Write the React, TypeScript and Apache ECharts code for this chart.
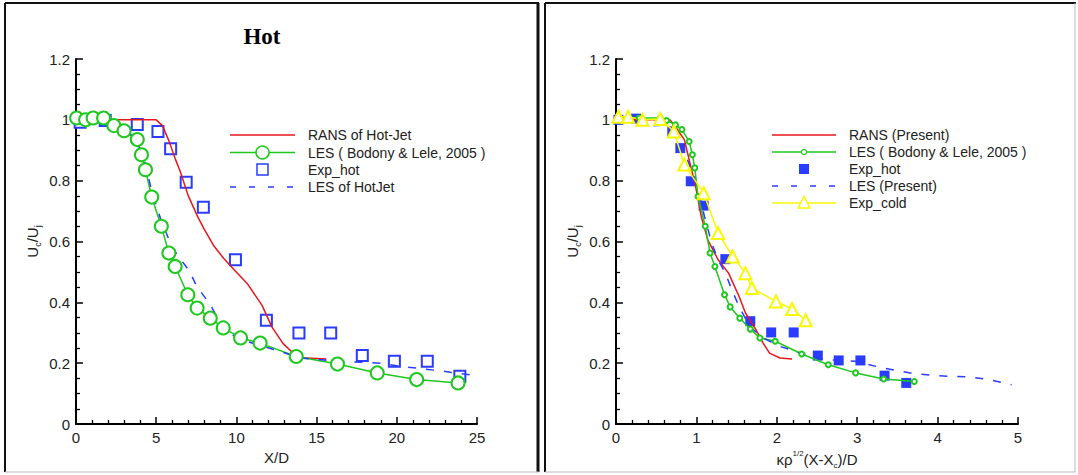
import React, { useEffect, useRef } from "react";
import * as echarts from "echarts";

// ---------- data ----------
// Left panel: "Hot", x = X/D
const leftRans: number[][] = [
  [0, 1.0], [0.3, 1.012], [0.8, 1.0], [5.0, 1.0], [5.4, 0.98], [5.8, 0.93], [6.2, 0.87],
  [6.5, 0.83], [7.0, 0.75], [7.6, 0.68], [8.0, 0.64], [8.6, 0.585], [9.2, 0.545],
  [9.9, 0.505], [10.7, 0.46], [11.6, 0.39], [12.2, 0.32], [12.9, 0.265], [13.5, 0.235],
  [14.1, 0.218], [15.6, 0.214],
];
const leftLesBodony: number[][] = [
  [0.04, 1.006], [0.6, 1.0], [1.07, 1.006], [1.72, 1.006], [2.36, 0.981], [3.0, 0.964],
  [3.82, 0.935], [4.08, 0.885], [4.33, 0.836], [4.72, 0.746], [5.32, 0.65], [5.79, 0.562],
  [6.18, 0.518], [6.97, 0.425], [7.55, 0.381], [8.37, 0.348], [9.18, 0.316], [10.26, 0.283],
  [11.48, 0.266], [13.73, 0.222], [16.3, 0.197], [18.78, 0.168], [21.24, 0.146], [23.82, 0.135],
];
const leftExpHot: number[][] = [
  [0.26, 0.992], [1.82, 0.998], [3.82, 0.985], [5.11, 0.962], [5.9, 0.905], [6.87, 0.795],
  [7.94, 0.713], [9.94, 0.54], [11.87, 0.341], [13.9, 0.299], [15.88, 0.299], [17.85, 0.225],
  [19.85, 0.206], [21.9, 0.206], [23.93, 0.157],
];
const leftLesHotJet: number[][] = [
  [0, 1.0], [1.5, 1.0], [3.0, 0.975], [3.8, 0.93], [4.3, 0.86], [4.7, 0.77], [5.3, 0.67],
  [6.0, 0.58], [7.1, 0.5], [7.5, 0.455], [8.4, 0.39], [9.2, 0.31], [10.3, 0.277],
  [12.4, 0.244], [14.0, 0.217], [16.5, 0.206], [18.9, 0.2], [20.2, 0.19], [22.5, 0.176],
  [25.0, 0.159],
];

// Right panel: scaled coordinate
const rightRans: number[][] = [
  [0, 1.0], [0.04, 1.017], [0.15, 1.0], [0.67, 1.0], [0.72, 0.984], [0.85, 0.935],
  [0.93, 0.847], [0.99, 0.781], [1.06, 0.683], [1.14, 0.606], [1.27, 0.54], [1.4, 0.496],
  [1.53, 0.42], [1.61, 0.365], [1.74, 0.31], [1.83, 0.266], [1.91, 0.233], [2.04, 0.217],
  [2.19, 0.214],
];
const rightLesBodony: number[][] = [
  [0.03, 1.006], [0.29, 1.006], [0.55, 1.006], [0.63, 0.998], [0.74, 0.984], [0.82, 0.968],
  [0.91, 0.929], [0.95, 0.885], [0.98, 0.842], [1.02, 0.748], [1.11, 0.65], [1.17, 0.562],
  [1.23, 0.518], [1.35, 0.425], [1.42, 0.385], [1.54, 0.348], [1.67, 0.312], [1.79, 0.283],
  [1.98, 0.272], [2.31, 0.23], [2.64, 0.195], [2.98, 0.168], [3.33, 0.148], [3.71, 0.14],
];
const rightExpHot: number[][] = [
  [0.03, 1.0], [0.25, 1.004], [0.7, 0.962], [0.8, 0.907], [0.93, 0.798], [1.09, 0.718],
  [1.36, 0.542], [1.67, 0.338], [1.93, 0.301], [2.21, 0.301], [2.51, 0.225], [2.77, 0.209],
  [3.04, 0.209], [3.34, 0.159], [3.61, 0.135],
];
const rightLesPresent: number[][] = [
  [0.03, 0.995], [0.2, 1.0], [0.46, 0.98], [0.63, 0.984], [0.76, 0.935], [0.89, 0.869],
  [1.02, 0.77], [1.1, 0.683], [1.19, 0.595], [1.27, 0.54], [1.36, 0.496], [1.44, 0.442],
  [1.53, 0.387], [1.66, 0.321], [1.83, 0.283], [2.04, 0.255], [2.3, 0.233], [2.6, 0.212],
  [2.98, 0.206], [3.32, 0.184], [3.66, 0.168], [3.96, 0.159], [4.35, 0.155], [4.6, 0.148],
  [4.92, 0.129],
];
const rightExpCold: number[][] = [
  [0.03, 1.01], [0.15, 1.01], [0.33, 1.0], [0.55, 1.003], [0.72, 0.962], [0.85, 0.853],
  [1.09, 0.759], [1.27, 0.628], [1.45, 0.551], [1.61, 0.496], [1.69, 0.447], [1.99, 0.403],
  [2.19, 0.378], [2.36, 0.341],
];

const leftLegendLabels = ["RANS of Hot-Jet", "LES ( Bodony & Lele, 2005 )", "Exp_hot", "LES of HotJet"];
const rightLegendLabels = ["RANS (Present)", "LES ( Bodony & Lele, 2005 )", "Exp_hot", "LES (Present)", "Exp_cold"];

// ---------- styles ----------
const FONT = "'Liberation Sans', Arial, Helvetica, sans-serif";
const RED = "#e8161c";
const GREEN = "#1ec81e";
const BLUE = "#2a3cff";
const YELLOW = "#f8f800";

function xAxis(gridIndex: number, max: number, interval: number, name: any, rich: any) {
  return {
    type: "value", gridIndex, min: 0, max, interval,
    axisLine: { show: true, onZero: false, lineStyle: { color: "#000", width: 2 } },
    axisTick: { show: true, inside: true, length: 7, lineStyle: { color: "#000", width: 1.5 } },
    minorTick: { show: true, splitNumber: 5, length: 4, lineStyle: { color: "#000", width: 1.3 } },
    axisLabel: { color: "#222", fontSize: 15, fontFamily: FONT, margin: 6 },
    splitLine: { show: false },
    name, nameLocation: "middle", nameGap: 19,
    nameTextStyle: { color: "#222", fontSize: 15, fontFamily: FONT, rich },
  };
}
function yAxis(gridIndex: number) {
  return {
    type: "value", gridIndex, min: 0, max: 1.2, interval: 0.2,
    axisLine: { show: true, onZero: false, lineStyle: { color: "#000", width: 2 } },
    axisTick: { show: true, inside: true, length: 7, lineStyle: { color: "#000", width: 1.5 } },
    minorTick: { show: true, splitNumber: 4, length: 4, lineStyle: { color: "#000", width: 1.3 } },
    axisLabel: { color: "#222", fontSize: 15, fontFamily: FONT, margin: 6 },
    splitLine: { show: false },
    name: "{a|U}{b|c}{a|/U}{b|j}", nameLocation: "middle", nameGap: 34, nameRotate: 90,
    nameTextStyle: {
      color: "#222", fontFamily: FONT,
      rich: {
        a: { fontSize: 15, fontFamily: FONT, color: "#222", lineHeight: 20 },
        b: { fontSize: 9, fontFamily: FONT, color: "#222", lineHeight: 20, verticalAlign: "bottom" },
      },
    },
  };
}

function frameLine(x1: number, y1: number, x2: number, y2: number, color: string, w: number) {
  return { type: "line", shape: { x1, y1, x2, y2 }, style: { stroke: color, lineWidth: w }, silent: true };
}

function legendText(x: number, y: number, text: string) {
  return {
    type: "text", x, y,
    style: { text, fill: "#222", font: `14px ${FONT}`, verticalAlign: "middle", align: "left" },
    silent: true,
  };
}

export default function App() {
  const ref = useRef<HTMLDivElement>(null);
  useEffect(() => {
    document.body.style.margin = "0";
    const chart = echarts.init(ref.current!, null, { renderer: "svg", width: 1078, height: 475 });

    const lRows = [135, 152.5, 169.5, 187];
    const rRows = [135, 152, 169, 186, 203];
    const lx1 = 230, lx2 = 295, ltx = 308, lcx = (230 + 295) / 2;
    const rx1 = 772, rx2 = 836, rtx = 849, rcx = (772 + 836) / 2;

    const graphic: any[] = [
      // panel frames
      frameLine(5, 3, 539, 3, "#111", 2),
      frameLine(5, 3, 5, 472, "#111", 2),
      frameLine(538, 3, 538, 472, "#111", 3),
      frameLine(5, 472, 539, 472, "#bbb", 1),
      frameLine(545, 3, 1076, 3, "#111", 2),
      frameLine(545, 3, 545, 472, "#111", 2),
      frameLine(1075, 3, 1075, 472, "#bbb", 1),
      frameLine(545, 472, 1076, 472, "#bbb", 1),
      // title
      {
        type: "text", x: 262, y: 36,
        style: { text: "Hot", fill: "#000", font: "bold 23px 'Liberation Serif', 'Times New Roman', serif", align: "center", verticalAlign: "middle" },
      },
      // left legend
      frameLine(lx1, lRows[0], lx2, lRows[0], RED, 1.5),
      frameLine(lx1, lRows[1], lx2, lRows[1], GREEN, 1.5),
      { type: "circle", shape: { cx: lcx, cy: lRows[1], r: 6.5 }, style: { stroke: GREEN, fill: "#fff", lineWidth: 1.5 } },
      { type: "rect", shape: { x: lcx - 5.5, y: lRows[2] - 5.5, width: 11, height: 11 }, style: { stroke: BLUE, fill: "none", lineWidth: 1.5 } },
      { type: "line", shape: { x1: lx1, y1: lRows[3], x2: lx2, y2: lRows[3] }, style: { stroke: BLUE, lineWidth: 1.5, lineDash: [6, 13] } },
      ...leftLegendLabels.map((t, i) => legendText(ltx, lRows[i], t)),
      // right legend
      frameLine(rx1, rRows[0], rx2, rRows[0], RED, 1.5),
      frameLine(rx1, rRows[1], rx2, rRows[1], GREEN, 1.5),
      { type: "circle", shape: { cx: rcx, cy: rRows[1], r: 2.5 }, style: { stroke: GREEN, fill: "#fff", lineWidth: 1.2 } },
      { type: "rect", shape: { x: rcx - 5, y: rRows[2] - 5, width: 10, height: 10 }, style: { fill: BLUE } },
      { type: "line", shape: { x1: rx1, y1: rRows[3], x2: rx2, y2: rRows[3] }, style: { stroke: BLUE, lineWidth: 1.5, lineDash: [6, 13] } },
      frameLine(rx1, rRows[4], rx2, rRows[4], YELLOW, 1.5),
      { type: "polygon", shape: { points: [[rcx, rRows[4] - 6.5], [rcx - 6, rRows[4] + 5], [rcx + 6, rRows[4] + 5]] }, style: { stroke: YELLOW, fill: "#fff", lineWidth: 1.5 } },
      ...rightLegendLabels.map((t, i) => legendText(rtx, rRows[i], t)),
    ];

    const option: any = {
      animation: false,
      backgroundColor: "#fff",
      textStyle: { fontFamily: FONT },
      grid: [
        { left: 76, top: 59, width: 401, height: 365 },
        { left: 616, top: 59, width: 402, height: 365 },
      ],
      xAxis: [
        xAxis(0, 25, 5, "X/D", {}),
        xAxis(1, 5, 1, "{a|κρ}{sup|1/2}{a|(X-X}{sub|c}{a|)/D}", {
          a: { fontSize: 15, fontFamily: FONT, color: "#222", lineHeight: 20 },
          sup: { fontSize: 8, fontFamily: FONT, color: "#222", lineHeight: 20, verticalAlign: "top" },
          sub: { fontSize: 8, fontFamily: FONT, color: "#222", lineHeight: 20, verticalAlign: "bottom" },
        }),
      ],
      yAxis: [yAxis(0), yAxis(1)],
      graphic,
      series: [
        {
          name: "RANS of Hot-Jet", type: "line", xAxisIndex: 0, yAxisIndex: 0, data: leftRans,
          showSymbol: false, symbol: "none", lineStyle: { color: RED, width: 1.5 }, silent: true,
        },
        {
          name: "LES ( Bodony & Lele, 2005 )", type: "line", xAxisIndex: 0, yAxisIndex: 0, data: leftLesBodony,
          symbol: "emptyCircle", symbolSize: 13, showSymbol: true,
          lineStyle: { color: GREEN, width: 1.5 }, itemStyle: { color: GREEN, borderWidth: 1.5 }, silent: true,
        },
        {
          name: "Exp_hot", type: "scatter", xAxisIndex: 0, yAxisIndex: 0, data: leftExpHot,
          symbol: "emptyRect", symbolSize: 11, itemStyle: { color: BLUE, borderWidth: 1.5, opacity: 1 }, silent: true,
        },
        {
          name: "LES of HotJet", type: "line", xAxisIndex: 0, yAxisIndex: 0, data: leftLesHotJet,
          showSymbol: false, symbol: "none", lineStyle: { color: BLUE, width: 1.5, type: [8, 10] }, silent: true,
        },
        {
          name: "RANS (Present)", type: "line", xAxisIndex: 1, yAxisIndex: 1, data: rightRans,
          showSymbol: false, symbol: "none", lineStyle: { color: RED, width: 1.5 }, silent: true,
        },
        {
          name: "LES ( Bodony & Lele, 2005 ) R", type: "line", xAxisIndex: 1, yAxisIndex: 1, data: rightLesBodony,
          symbol: "emptyCircle", symbolSize: 5, showSymbol: true,
          lineStyle: { color: GREEN, width: 1.5 }, itemStyle: { color: GREEN, borderWidth: 1.2 }, silent: true,
        },
        {
          name: "Exp_hot R", type: "scatter", xAxisIndex: 1, yAxisIndex: 1, data: rightExpHot,
          symbol: "rect", symbolSize: 10, itemStyle: { color: BLUE, opacity: 1 }, silent: true,
        },
        {
          name: "LES (Present)", type: "line", xAxisIndex: 1, yAxisIndex: 1, data: rightLesPresent,
          showSymbol: false, symbol: "none", lineStyle: { color: BLUE, width: 1.5, type: [8, 10] }, silent: true,
        },
        {
          name: "Exp_cold", type: "line", xAxisIndex: 1, yAxisIndex: 1, data: rightExpCold,
          symbol: "emptyTriangle", symbolSize: 12, showSymbol: true,
          lineStyle: { color: YELLOW, width: 1.5 }, itemStyle: { color: YELLOW, borderWidth: 1.5 }, silent: true,
        },
      ],
    };
    chart.setOption(option);
    return () => chart.dispose();
  }, []);
  return <div ref={ref} style={{ width: 1078, height: 475, background: "#fff" }} />;
}
